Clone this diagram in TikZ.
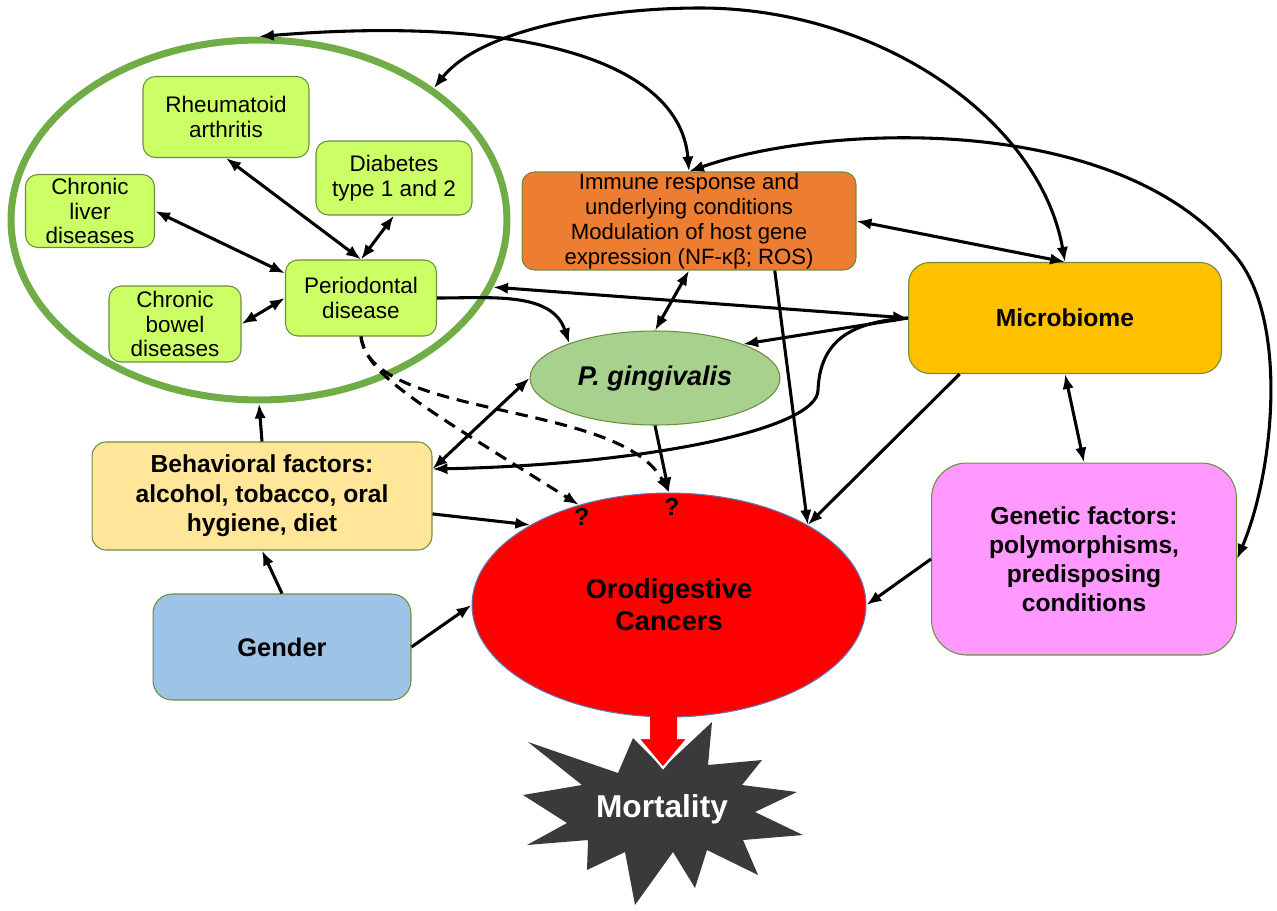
\documentclass[tikz,border=0pt]{standalone}
\usepackage{fontspec}
\setmainfont{Liberation Sans}
\usepackage{tikz}
\usetikzlibrary{arrows.meta}
\usetikzlibrary{shapes.geometric}

\definecolor{limebox}{HTML}{CCFF66}
\definecolor{ringgreen}{HTML}{70AD47}
\definecolor{boxline}{HTML}{6B8E3E}
\definecolor{immuneorange}{HTML}{ED7D31}
\definecolor{microgold}{HTML}{FFC000}
\definecolor{geneticpink}{HTML}{FF99FF}
\definecolor{behavyellow}{HTML}{FFE699}
\definecolor{genderblue}{HTML}{9DC3E6}
\definecolor{pgingreen}{HTML}{A9D18E}
\definecolor{cancerred}{HTML}{FF0000}
\definecolor{cancerline}{HTML}{5B7BB5}
\definecolor{mortgray}{HTML}{3A3A3A}

\tikzset{
  >={Latex[length=8.5pt,width=6.5pt]},
  box/.style={draw=boxline, line width=0.6pt, align=center, inner sep=0pt},
  disease/.style={box, fill=limebox, rounded corners=7pt, font=\fontsize{12.8}{14}\selectfont},
  factor/.style={box, font=\bfseries\fontsize{14}{16.8}\selectfont},
  link/.style={line width=1.75pt},
  unsure/.style={link, dash pattern=on 7pt off 4.5pt},
}

\begin{document}
\begin{tikzpicture}[x=0.02cm, y=-0.02cm]
    \useasboundingbox (0,0) rectangle (1277,910);
    % periodontal cluster
    \node [ellipse, draw=ringgreen, line width=4pt, minimum width=9.92cm, minimum height=7.2cm] (cluster) at (259,220) {};
    \node [disease, minimum width=3.32cm, minimum height=1.62cm] (rheum) at (226,117) {Rheumatoid\\arthritis};
    \node [disease, minimum width=3.12cm, minimum height=1.48cm] (diab) at (394,178) {Diabetes\\type 1 and 2};
    \node [disease, minimum width=2.58cm, minimum height=1.46cm] (liver) at (90,211) {Chronic\\liver\\diseases};
    \node [disease, minimum width=3.02cm, minimum height=1.52cm] (perio) at (361,298) {Periodontal\\disease};
    \node [disease, minimum width=2.64cm, minimum height=1.52cm] (bowel) at (175,324) {Chronic\\bowel\\diseases};
    % host and microbes
    \node [box, fill=immuneorange, rounded corners=7pt, minimum width=6.68cm, minimum height=1.96cm, font=\fontsize{12.6}{14.2}\selectfont] (immune) at (689,221) {Immune response and\\underlying conditions\\Modulation of host gene\\expression (NF-κβ; ROS)};
    \node [factor, fill=microgold, rounded corners=12pt, minimum width=6.26cm, minimum height=2.22cm] (micro) at (1065,318) {Microbiome};
    \node [factor, fill=geneticpink, rounded corners=20pt, minimum width=6.1cm, minimum height=3.84cm, font=\bfseries\fontsize{14}{16.5}\selectfont] (genetic) at (1084,559) {Genetic factors:\\polymorphisms,\\predisposing\\conditions};
    \node [ellipse, draw=boxline, line width=0.6pt, fill=pgingreen, minimum width=5cm, minimum height=1.88cm, inner sep=0pt, font=\bfseries\itshape\fontsize{15.4}{18}\selectfont] (pging) at (655,378) {P. gingivalis};
    % lifestyle
    \node [factor, fill=behavyellow, rounded corners=8pt, minimum width=6.8cm, minimum height=2.16cm] (behav) at (262,496) {Behavioral factors:\\alcohol, tobacco, oral\\hygiene, diet};
    \node [factor, fill=genderblue, rounded corners=11pt, minimum width=5.16cm, minimum height=2.12cm, font=\bfseries\fontsize{14.5}{17}\selectfont] (gender) at (282,647) {Gender};
    % outcome
    \node [ellipse, draw=cancerline, line width=0.6pt, fill=cancerred, minimum width=7.88cm, minimum height=4.48cm, inner sep=0pt, align=center, font=\bfseries\fontsize{15.5}{18}\selectfont] (cancer) at (669,605) {Orodigestive\\Cancers};
    \node [font=\bfseries\fontsize{14}{16}\selectfont] (q1) at (582,517) {?};
    \node [font=\bfseries\fontsize{14}{16}\selectfont] (q2) at (672,507) {?};
    \fill [mortgray] (528,742) -- (618,773) -- (633,738) -- (663,768) -- (712,722) -- (708,765)
        -- (762,760) -- (742,785) -- (797,792) -- (755,812) -- (803,835) -- (743,840)
        -- (758,875) -- (707,850) -- (695,888) -- (673,852) -- (635,905) -- (625,852)
        -- (587,870) -- (588,840) -- (527,845) -- (567,823) -- (523,795) -- (582,785) -- cycle;
    \fill [cancerred] (650,714) -- (650,738) -- (638,738) -- (663,768) -- (688,738) -- (677,738) -- (677,714) -- cycle;
    \draw [white, line width=1.2pt] (650,738) -- (638,738) -- (663,768) -- (688,738) -- (677,738);
    \node [text=white, font=\bfseries\fontsize{18}{20}\selectfont] (mortality) at (662,809) {Mortality};
    % links inside the cluster
    \draw [link, <->] (rheum.south) -- (perio.north);
    \draw [link, <->] (diab.south) -- (perio.north);
    \draw [link, <->] (liver.east) -- (perio.162);
    \draw [link, <->] (bowel.east) -- (perio.west);
    % long curves over the top
    \draw [link, <->] (cluster.north) .. controls (520,15) and (680,60) .. (immune.north);
    \draw [link, <->] (cluster.37) .. controls (480,30) and (600,8) .. (700,8)
        .. controls (880,8) and (1040,120) .. (micro.north);
    \draw [link, <->] (immune.north) .. controls (820,125) and (1110,110) .. (1230,250)
        .. controls (1290,310) and (1275,470) .. (genetic.east);
    % middle links
    \draw [link, <->] (immune.east) -- (micro.north);
    \draw [link, <->] (cluster.-16) -- (micro.west);
    \draw [link, ->] (perio.east) to [out=0, in=108] (pging.158);
    \draw [link, <->] (immune.south) -- (pging.north);
    \draw [link, ->] (micro.west) -- (pging.21);
    \draw [link, ->] (micro.west) .. controls (845,322) and (820,345) .. (818,390)
        .. controls (818,430) and (640,465) .. (behav.9);
    \draw [link, <->] (pging.west) -- (behav.9);
    \draw [link, ->] (behav.north) -- (cluster.south);
    \draw [link, ->] (gender.north) -- (behav.south);
    % into the cancers
    \draw [link, ->] (behav.-6) -- (cancer.150);
    \draw [link, ->] (gender.east) -- (cancer.west);
    \draw [unsure, ->] (perio.south) .. controls (366,375) and (420,405) .. (cancer.132);
    \draw [unsure, ->] (perio.south) .. controls (370,420) and (620,400) .. (cancer.north);
    \draw [link, ->] (pging.south) -- (cancer.north);
    \draw [link, ->] (immune.-30) -- (cancer.30);
    \draw [link, ->] (micro.208) -- (cancer.30);
    \draw [link, <->] (micro.south) -- (genetic.north);
    \draw [link, ->] (genetic.west) -- (cancer.east);
\end{tikzpicture}
\end{document}
